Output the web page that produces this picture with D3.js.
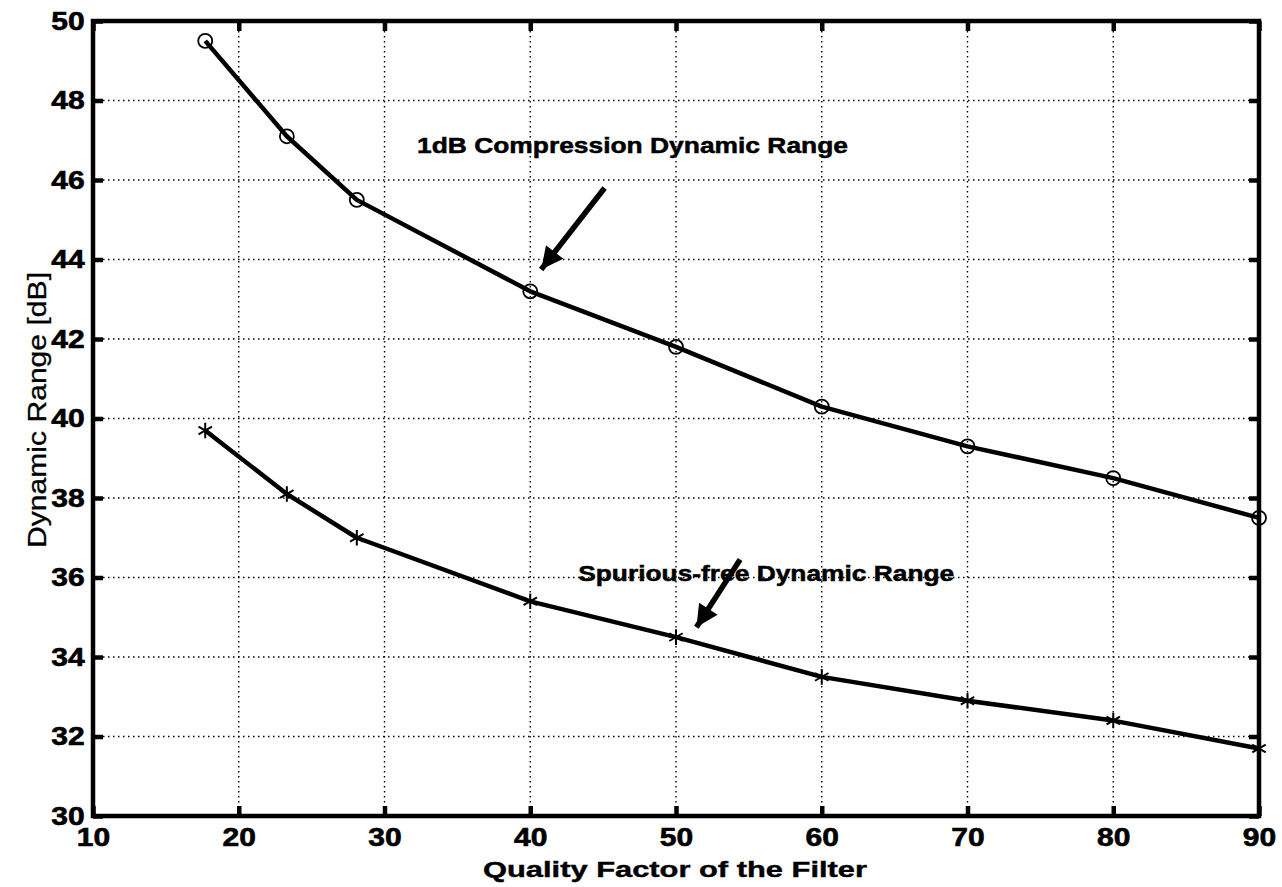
<!DOCTYPE html>
<html>
<head>
<meta charset="utf-8">
<script src="https://cdn.jsdelivr.net/npm/d3@7"></script>
<style>
  body { margin: 0; background: #fff; }
  svg { display: block; font-family: "Liberation Sans", Arial, sans-serif; }
</style>
</head>
<body>
<svg id="chart"></svg>
<script>
// values
const qualityFactor = [17.7, 23.3, 28.1, 40, 50, 60, 70, 80, 90];
const compressionDR = [49.5, 47.1, 45.5, 43.2, 41.8, 40.3, 39.3, 38.5, 37.5];
const spuriousDR = [39.7, 38.1, 37.0, 35.4, 34.5, 33.5, 32.9, 32.4, 31.7];
const xTicks = [10, 20, 30, 40, 50, 60, 70, 80, 90];
const yTicks = [30, 32, 34, 36, 38, 40, 42, 44, 46, 48, 50];

// annotations, in data units
const labels = [
  { text: "1dB Compression Dynamic Range", x: 32.23, y: 46.68, len: 431 },
  { text: "Spurious-free Dynamic Range", x: 43.29, y: 35.91, len: 376 }
];
const arrows = [
  { from: [45.1, 45.8], to: [40.75, 43.75] },
  { from: [54.4, 36.45], to: [51.4, 34.75] }
];

const W = 1282, H = 887;
const margin = { top: 21, right: 23, bottom: 71, left: 93 },
  width = W - margin.left - margin.right,
  height = H - margin.top - margin.bottom;

const root = d3.select("#chart").attr("width", W).attr("height", H);
root.append("rect").attr("width", W).attr("height", H).attr("fill", "#fff");

const svg = root.append("g")
  .attr("transform", "translate(" + margin.left + "," + margin.top + ")");

const x = d3.scaleLinear().domain([10, 90]).range([0, width]);
const y = d3.scaleLinear().domain([30, 50]).range([height, 0]);

// dotted grid
svg.append("g")
  .selectAll("line")
  .data(xTicks.slice(1, -1))
  .join("line")
  .attr("x1", d => x(d)).attr("x2", d => x(d))
  .attr("y1", 0).attr("y2", height)
  .attr("stroke", "#000").attr("stroke-width", 1.4)
  .attr("stroke-dasharray", "1.5,3.5");

svg.append("g")
  .selectAll("line")
  .data(yTicks.slice(1, -1))
  .join("line")
  .attr("x1", 0).attr("x2", width)
  .attr("y1", d => y(d)).attr("y2", d => y(d))
  .attr("stroke", "#000").attr("stroke-width", 1.4)
  .attr("stroke-dasharray", "1.5,3.5");

// axes, ticks pointing inwards on all four sides
function styleAxis(g) {
  g.select(".domain").remove();
  g.selectAll(".tick line").attr("stroke", "#000").attr("stroke-width", 4.5);
  g.selectAll("text")
    .attr("fill", "#000")
    .attr("stroke", "#000").attr("stroke-width", 0.6)
    .style("font-size", "25px")
    .style("font-weight", "bold");
}

const xAxis = svg.append("g")
  .attr("transform", "translate(0," + height + ")")
  .call(d3.axisBottom(x).tickValues(xTicks).tickSize(-10).tickPadding(12))
  .call(styleAxis);
xAxis.selectAll("text").attr("transform", "scale(1.2,1)");

const yAxis = svg.append("g")
  .call(d3.axisLeft(y).tickValues(yTicks).tickSize(-10).tickPadding(7))
  .call(styleAxis);
yAxis.selectAll("text").attr("transform", "scale(1.2,1)");

svg.append("g")
  .call(d3.axisTop(x).tickValues(xTicks).tickSize(-10).tickFormat(""))
  .call(styleAxis);
svg.append("g")
  .attr("transform", "translate(" + width + ",0)")
  .call(d3.axisRight(y).tickValues(yTicks).tickSize(-10).tickFormat(""))
  .call(styleAxis);

// frame
svg.append("rect")
  .attr("width", width).attr("height", height)
  .attr("fill", "none").attr("stroke", "#000").attr("stroke-width", 4.5);

// series
const line = d3.line().x(d => x(d[0])).y(d => y(d[1]));
const topData = qualityFactor.map((q, i) => [q, compressionDR[i]]);
const lowData = qualityFactor.map((q, i) => [q, spuriousDR[i]]);

svg.append("path").datum(topData)
  .attr("fill", "none").attr("stroke", "#000").attr("stroke-width", 4.5)
  .attr("stroke-linejoin", "round")
  .attr("d", line);
svg.append("path").datum(lowData)
  .attr("fill", "none").attr("stroke", "#000").attr("stroke-width", 4.5)
  .attr("stroke-linejoin", "round")
  .attr("d", line);

svg.append("g")
  .selectAll("circle")
  .data(topData)
  .join("circle")
  .attr("cx", d => x(d[0])).attr("cy", d => y(d[1]))
  .attr("r", 7)
  .attr("fill", "none").attr("stroke", "#000").attr("stroke-width", 1.8);

const star = d3.symbol().type(d3.symbolAsterisk).size(170);
svg.append("g")
  .selectAll("path")
  .data(lowData)
  .join("path")
  .attr("transform", d => "translate(" + x(d[0]) + "," + y(d[1]) + ")")
  .attr("d", star)
  .attr("fill", "none").attr("stroke", "#000").attr("stroke-width", 2);

// arrows
root.append("defs").append("marker")
  .attr("id", "head")
  .attr("viewBox", "0 0 10 10")
  .attr("refX", 10).attr("refY", 5)
  .attr("markerUnits", "userSpaceOnUse")
  .attr("markerWidth", 30).attr("markerHeight", 22)
  .attr("orient", "auto")
  .append("path")
  .attr("d", "M0,0 L10,5 L0,10 Z")
  .attr("fill", "#000");

svg.append("g")
  .selectAll("line")
  .data(arrows)
  .join("line")
  .attr("x1", d => x(d.from[0])).attr("y1", d => y(d.from[1]))
  .attr("x2", d => x(d.to[0])).attr("y2", d => y(d.to[1]))
  .attr("stroke", "#000").attr("stroke-width", 5.5)
  .attr("marker-end", "url(#head)");

svg.append("g")
  .selectAll("text")
  .data(labels)
  .join("text")
  .attr("x", d => x(d.x)).attr("y", d => y(d.y))
  .attr("textLength", d => d.len)
  .attr("lengthAdjust", "spacingAndGlyphs")
  .attr("stroke", "#000").attr("stroke-width", 0.5)
  .style("font-size", "22px")
  .style("font-weight", "bold")
  .text(d => d.text);

// axis titles
root.append("text")
  .attr("x", 483).attr("y", 877)
  .attr("textLength", 384)
  .attr("lengthAdjust", "spacingAndGlyphs")
  .attr("stroke", "#000").attr("stroke-width", 0.4)
  .style("font-size", "22px")
  .style("font-weight", "bold")
  .text("Quality Factor of the Filter");

root.append("text")
  .attr("transform", "translate(46,548) rotate(-90)")
  .attr("textLength", 276)
  .attr("lengthAdjust", "spacingAndGlyphs")
  .attr("stroke", "#000").attr("stroke-width", 0.3)
  .style("font-size", "26px")
  .text("Dynamic Range [dB]");
</script>
</body>
</html>
